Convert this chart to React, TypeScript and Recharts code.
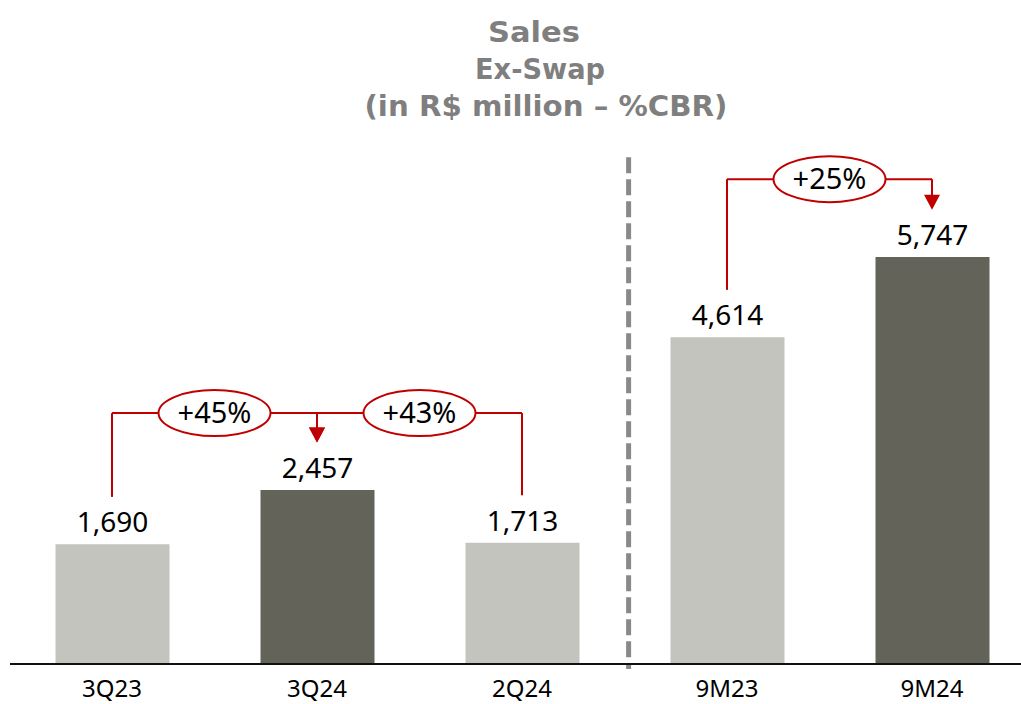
import { BarChart, Bar, XAxis, YAxis, Cell, LabelList, ReferenceLine, ReferenceDot } from "recharts";

const periods = ["3Q23", "3Q24", "2Q24", "9M23", "9M24"];
const sales = [1690, 2457, 1713, 4614, 5747];
const isCurrent = [false, true, false, false, true];

// growth comparisons: from period -> to period
const compFrom = [0, 2, 3];
const compTo = [1, 1, 4];
const compLabels = ["+45%", "+43%", "+25%"];
const compLevels = [3544, 3544, 6848];
const bracketGap = 670;

const titleLines = ["Sales", "Ex-Swap", "(in R$ million \u2013 %CBR)"];

const data = periods.map((p, i) => ({ idx: i, period: p, value: sales[i] }));

const RED = "#C00000";
const FONT = "'Noto Sans', sans-serif";

const Bubble = (label: string) => (props: any) => {
  const { cx, cy } = props;
  return (
    <g>
      <ellipse cx={cx} cy={cy} rx={56} ry={23} fill="#fff" stroke={RED} strokeWidth={2} />
      <text x={cx} y={cy + 10} textAnchor="middle" fontSize={29} fontFamily={FONT} fill="#000">
        {label}
      </text>
    </g>
  );
};

const ArrowHead = (props: any) => {
  const { cx, cy } = props;
  return <path d={`M${cx - 8},${cy - 15} L${cx + 8},${cy - 15} L${cx},${cy} Z`} fill={RED} />;
};

export default function App() {
  return (
    <div style={{ position: "absolute", left: 0, top: 0, width: 1021, height: 704, background: "#fff", overflow: "hidden" }}>
      <svg width={1021} height={130} style={{ position: "absolute", left: 0, top: 0 }}>
        {titleLines.map((t, i) => (
          <text
            key={t}
            x={[534, 540, 546][i]}
            y={42 + i * 37}
            textAnchor="middle"
            fontFamily="'DejaVu Sans', sans-serif"
            fontWeight="bold"
            fontSize={28}
            fill="#7F7F7F"
            textLength={[92, 130, 363][i]}
            lengthAdjust="spacingAndGlyphs"
          >
            {t}
          </text>
        ))}
      </svg>
      <div style={{ position: "absolute", left: 0, top: 0 }}>
        <BarChart width={1021} height={704} data={data} margin={{ top: 133, right: 0, bottom: 0, left: 10 }}>
          <XAxis
            type="number"
            dataKey="idx"
            domain={[-0.4976, 4.4341]}
            allowDataOverflow
            ticks={[0, 1, 2, 3, 4]}
            interval={0}
            tickFormatter={(v: number) => periods[v] ?? ""}
            tickLine={false}
            tickMargin={10}
            height={40}
            axisLine={{ stroke: "#111", strokeWidth: 2 }}
            tick={{ fontSize: 24, fill: "#000", fontFamily: FONT }}
          />
          <YAxis hide domain={[0, 7500]} allowDataOverflow width={0} />
          <Bar dataKey="value" barSize={114} isAnimationActive={false}>
            {data.map((d, i) => (
              <Cell key={d.period} fill={isCurrent[i] ? "#64635A" : "#C4C4BE"} />
            ))}
            <LabelList
              dataKey="value"
              position="top"
              offset={12}
              formatter={(v: any) => Number(v).toLocaleString("en-US")}
              style={{ fontSize: 28, fill: "#000", fontFamily: FONT }}
            />
          </Bar>

          <ReferenceLine
            segment={[
              { x: 2.52, y: 7159 },
              { x: 2.52, y: -71 },
            ]}
            stroke="#898989"
            strokeWidth={5}
            strokeDasharray="16 6"
            ifOverflow="visible"
          />

          {compFrom.map((f, k) => {
            const t = compTo[k];
            const lvl = compLevels[k];
            return [
              <ReferenceLine
                key={`lf${k}`}
                segment={[
                  { x: f, y: sales[f] + bracketGap },
                  { x: f, y: lvl },
                ]}
                stroke={RED}
                strokeWidth={2}
                ifOverflow="visible"
              />,
              <ReferenceLine
                key={`lh${k}`}
                segment={[
                  { x: f, y: lvl },
                  { x: t, y: lvl },
                ]}
                stroke={RED}
                strokeWidth={2}
                ifOverflow="visible"
              />,
              <ReferenceLine
                key={`lt${k}`}
                segment={[
                  { x: t, y: lvl },
                  { x: t, y: sales[t] + bracketGap + 150 },
                ]}
                stroke={RED}
                strokeWidth={2}
                ifOverflow="visible"
              />,
            ];
          })}

          {compFrom.map((f, k) => (
            <ReferenceDot
              key={`a${k}`}
              x={compTo[k]}
              y={sales[compTo[k]] + bracketGap}
              ifOverflow="visible"
              shape={ArrowHead}
            />
          ))}

          {compFrom.map((f, k) => (
            <ReferenceDot
              key={`b${k}`}
              x={(f + compTo[k]) / 2}
              y={compLevels[k]}
              ifOverflow="visible"
              shape={Bubble(compLabels[k])}
            />
          ))}
        </BarChart>
      </div>
    </div>
  );
}
